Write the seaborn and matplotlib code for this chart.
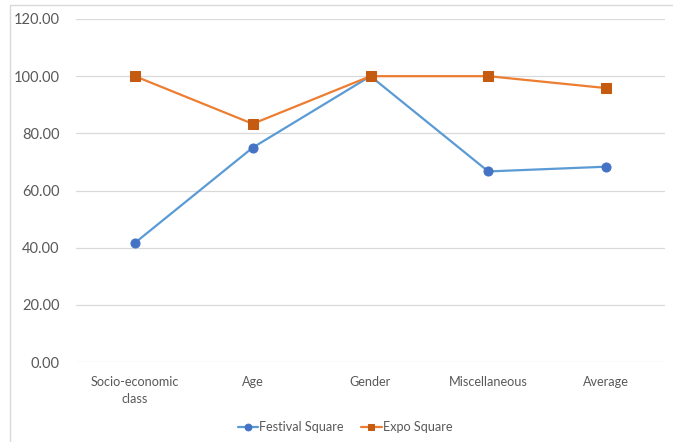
import matplotlib
matplotlib.use("Agg")
import matplotlib.pyplot as plt
from matplotlib.lines import Line2D
from matplotlib.ticker import FormatStrFormatter
import pandas as pd
import seaborn as sns

categories = ["Socio-economic\nclass", "Age", "Gender", "Miscellaneous", "Average"]
festival_square = [41.67, 75.00, 100.00, 66.67, 68.33]
expo_square = [100.00, 83.33, 100.00, 100.00, 95.83]
y_ticks = [0, 20, 40, 60, 80, 100, 120]

sns.set_theme(style="white")
plt.rcParams["font.family"] = ["Lato", "DejaVu Sans"]

fig = plt.figure(figsize=(6.73, 4.42), dpi=100)
ax = fig.add_axes([76 / 673, 1 - 362 / 442, (665 - 76) / 673, (362 - 19) / 442])

df = pd.DataFrame({
    "category": categories * 2,
    "value": festival_square + expo_square,
    "series": ["Festival Square"] * 5 + ["Expo Square"] * 5,
})

styles = {
    "Festival Square": dict(line="#5B9BD5", mark="#4472C4", marker="o", ms=6.5),
    "Expo Square": dict(line="#ED7D31", mark="#C55A11", marker="s", ms=6.5),
}

for name, st in styles.items():
    sub = df[df["series"] == name]
    sns.lineplot(data=sub, x="category", y="value", ax=ax, color=st["line"],
                 linewidth=1.6, marker=st["marker"], markersize=st["ms"],
                 markerfacecolor=st["mark"], markeredgecolor=st["mark"],
                 label=name, sort=False)

ax.set_xlim(-0.5, len(categories) - 0.5)
ax.set_ylim(0, 120)
ax.set_yticks(y_ticks)
ax.yaxis.set_major_formatter(FormatStrFormatter("%.2f"))
ax.grid(axis="y", color="#D9D9D9", linewidth=0.9)
ax.set_axisbelow(True)
for s in ax.spines.values():
    s.set_visible(False)
ax.set_xlabel("")
ax.set_ylabel("")
ax.tick_params(axis="both", length=0, labelcolor="#595959")
ax.tick_params(axis="y", pad=12, labelsize=10.5)
ax.tick_params(axis="x", pad=10, labelsize=9.1)
for lbl in ax.get_xticklabels():
    lbl.set_horizontalalignment("center")
    lbl.set_multialignment("center")
    lbl.set_linespacing(1.55)

handles, labels = ax.get_legend_handles_labels()
ax.legend(handles, labels, loc="center", bbox_to_anchor=(345 / 673, 1 - 427 / 442),
          bbox_transform=fig.transFigure, ncol=2, frameon=False, fontsize=9.1,
          handlelength=1.6, handletextpad=0.1, columnspacing=1.4, labelcolor="#595959",
          markerscale=0.75)

# outer frame of the chart area
fig.add_artist(Line2D([10 / 673, 1], [1 - 5 / 442, 1 - 5 / 442], transform=fig.transFigure,
                      color="#D9D9D9", linewidth=1.0))
fig.add_artist(Line2D([10 / 673, 10 / 673], [0, 1 - 5 / 442], transform=fig.transFigure,
                      color="#D9D9D9", linewidth=1.0))

fig.savefig("out.png", dpi=100, facecolor="white")
